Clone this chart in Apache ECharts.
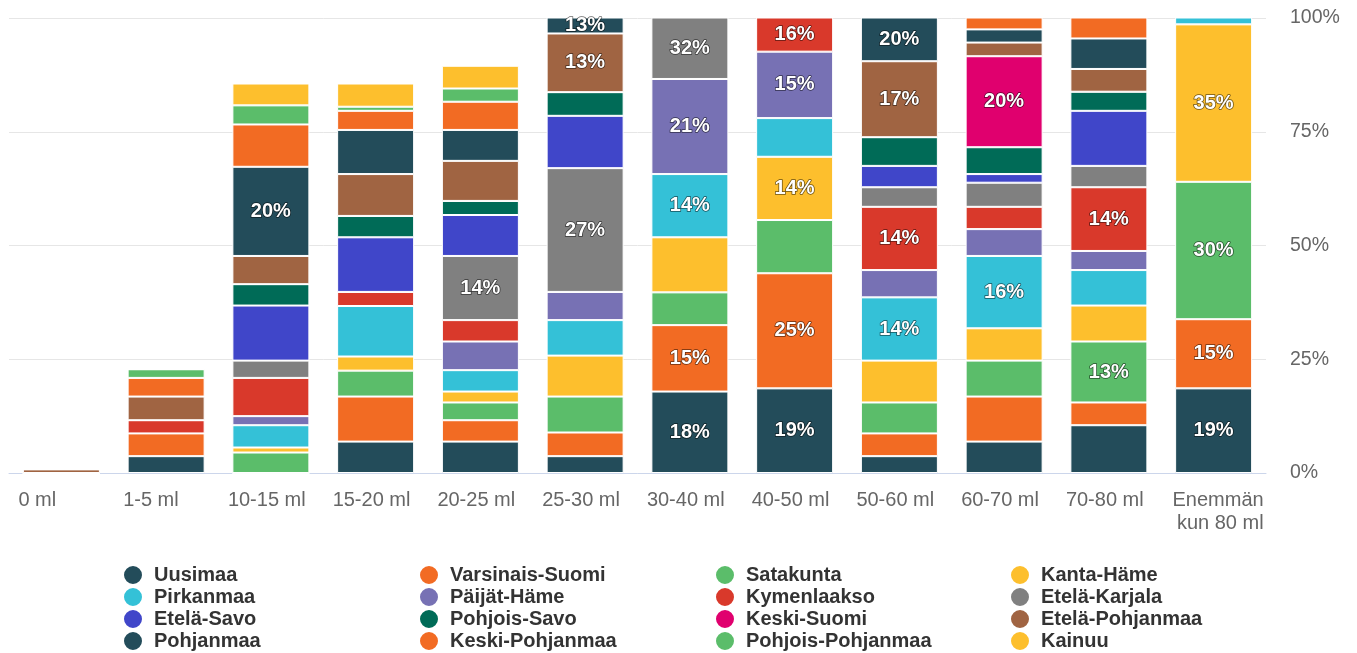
<!DOCTYPE html>
<html>
<head>
<meta charset="utf-8">
<script src="https://cdn.jsdelivr.net/npm/echarts@6/dist/echarts.min.js"></script>
<style>
    html, body { margin: 0; padding: 0; background: #fff; }
    #chart { width: 1357px; height: 653px; }
</style>
</head>
<body>
<div id="chart"></div>
<script>
// luokat (x-akseli)
const categories = ['0 ml', '1-5 ml', '10-15 ml', '15-20 ml', '20-25 ml', '25-30 ml',
    '30-40 ml', '40-50 ml', '50-60 ml', '60-70 ml', '70-80 ml', 'Enemmän\nkun 80 ml'];

const yTicks = [0, 25, 50, 75, 100];

// maakunnat ja niiden osuudet (%) kussakin luokassa
const regions = ['Uusimaa', 'Varsinais-Suomi', 'Satakunta', 'Kanta-Häme',
    'Pirkanmaa', 'Päijät-Häme', 'Kymenlaakso', 'Etelä-Karjala',
    'Etelä-Savo', 'Pohjois-Savo', 'Keski-Suomi', 'Etelä-Pohjanmaa',
    'Pohjanmaa', 'Keski-Pohjanmaa', 'Pohjois-Pohjanmaa', 'Kainuu'];

const uusimaa          = [0, 3.7, 0, 6.9, 6.9, 3.7, 17.9, 18.6, 3.7, 6.9, 10.5, 18.6];
const varsinaisSuomi   = [0, 5.0, 0, 9.9, 4.7, 5.2, 14.6, 25.3, 5.0, 9.9, 5.0, 15.2];
const satakunta        = [0, 0, 4.5, 5.7, 3.9, 7.9, 7.2, 11.7, 6.8, 7.9, 13.4, 30.2];
const kantaHame        = [0, 0, 1.1, 3.1, 2.4, 9.0, 12.1, 13.9, 9.2, 7.1, 7.9, 34.6];
const pirkanmaa        = [0, 0, 4.9, 11.1, 4.7, 7.8, 13.9, 8.5, 13.9, 15.9, 7.8, 2.0];
const paijatHame       = [0, 0, 2.0, 0, 6.3, 6.2, 20.9, 14.6, 6.0, 5.9, 4.2, 0];
const kymenlaakso      = [0, 2.9, 8.4, 3.1, 4.7, 0, 0, 16.0, 13.9, 4.9, 14.0, 0];
const etelaKarjala     = [0, 0, 3.8, 0, 14.1, 27.2, 32.0, 0, 4.3, 5.3, 4.7, 0];
const etelaSavo        = [0, 0, 12.1, 12.0, 9.0, 11.5, 0, 0, 4.7, 1.9, 12.1, 0];
const pohjoisSavo      = [0, 0, 4.7, 4.7, 3.1, 5.2, 0, 0, 6.3, 5.9, 4.2, 0];
const keskiSuomi       = [0, 0, 0, 0, 0, 0, 0, 0, 0, 20.0, 0, 0];
const etelaPohjanmaa   = [0.8, 5.2, 6.2, 9.2, 8.8, 12.9, 0, 0, 16.7, 3.0, 5.0, 0];
const pohjanmaa        = [0, 0, 19.6, 9.7, 6.8, 13.0, 0, 0, 20.0, 2.9, 6.7, 0];
const keskiPohjanmaa   = [0, 4.1, 9.3, 4.2, 6.2, 0, 0, 0, 0, 3.5, 5.5, 0];
const pohjoisPohjanmaa = [0, 1.9, 4.2, 0.9, 2.9, 0, 0, 0, 0, 0, 0, 0];
const kainuu           = [0, 0, 4.8, 5.1, 5.0, 0, 0, 0, 0, 0, 0, 0];

const seriesValues = [uusimaa, varsinaisSuomi, satakunta, kantaHame,
    pirkanmaa, paijatHame, kymenlaakso, etelaKarjala,
    etelaSavo, pohjoisSavo, keskiSuomi, etelaPohjanmaa,
    pohjanmaa, keskiPohjanmaa, pohjoisPohjanmaa, kainuu];

const colors = ['#234c5a', '#f26b23', '#5bbd6a', '#fdbf2d',
    '#34c1d7', '#7771b4', '#d9392b', '#808080',
    '#4046c9', '#006b57', '#e0006e', '#a06442',
    '#234c5a', '#f26b23', '#5bbd6a', '#fdbf2d'];

const font = '"Liberation Sans", Arial, sans-serif';
const chart = echarts.init(document.getElementById('chart'));

const legendLefts = [122, 418, 714, 1009];
const legends = legendLefts.map((left, col) => ({
    orient: 'vertical',
    left: left,
    top: 564,
    height: 120,
    padding: 0,
    icon: 'circle',
    itemWidth: 20,
    itemHeight: 20,
    itemGap: 0,
    selectedMode: false,
    data: [0, 1, 2, 3].map(row => regions[row * 4 + col]),
    textStyle: {
        fontFamily: font,
        fontSize: 20,
        lineHeight: 20,
        fontWeight: 'bold',
        color: '#333',
        padding: [0, 0, 0, 6]
    }
}));

const series = regions.map((name, i) => ({
    name: name,
    type: 'bar',
    stack: 'total',
    barWidth: 77,
    data: seriesValues[i],
    itemStyle: {
        color: colors[i],
        borderColor: '#fff',
        borderWidth: 1
    },
    label: {
        show: true,
        position: 'inside',
        fontFamily: font,
        fontSize: 20,
        fontWeight: 'bold',
        color: '#fff',
        textBorderColor: 'rgba(0,0,0,0.6)',
        textBorderWidth: 1.5,
        formatter: p => p.value >= 12.5 ? Math.round(p.value) + '%' : ''
    }
}));

const option = {
    animation: false,
    backgroundColor: '#fff',
    textStyle: { fontFamily: font },
    grid: {
        left: 9,
        right: 91,
        top: 18,
        bottom: 180
    },
    legend: legends,
    xAxis: {
        type: 'category',
        data: categories,
        axisTick: { show: false },
        axisLine: { lineStyle: { color: '#ccd6eb', width: 1 } },
        axisLabel: {
            interval: 0,
            margin: 16,
            fontFamily: font,
            fontSize: 20,
            lineHeight: 23,
            color: '#666',
            // nimikkeet tasataan palkin vasempaan reunaan
            formatter: v => v.indexOf('\n') >= 0
                ? v.split('\n').map(s => '{b|' + s + '}').join('\n')
                : '{a|' + v + '}',
            rich: {
                a: { width: 86, align: 'left', fontSize: 20, color: '#666', fontFamily: font },
                b: { width: 100, align: 'right', fontSize: 20, lineHeight: 23, color: '#666', fontFamily: font }
            }
        }
    },
    yAxis: {
        type: 'value',
        position: 'right',
        min: yTicks[0],
        max: yTicks[yTicks.length - 1],
        interval: yTicks[1] - yTicks[0],
        axisLine: { show: false },
        axisTick: { show: false },
        splitLine: { lineStyle: { color: '#e6e6e6', width: 1 } },
        axisLabel: {
            margin: 24,
            fontFamily: font,
            fontSize: 19.5,
            color: '#666',
            formatter: '{value}%'
        }
    },
    series: series
};

chart.setOption(option);
</script>
</body>
</html>
